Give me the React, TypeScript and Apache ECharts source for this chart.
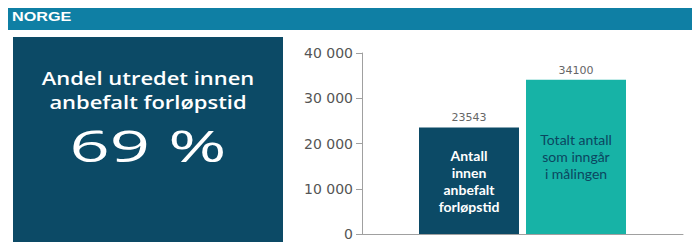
import React, { useEffect, useRef } from "react";
import * as echarts from "echarts";

const headerTitle = "NORGE";
const kpiTitleLines = ["Andel utredet innen", "anbefalt forløpstid"];
const kpiValue = "69 %";
const categories = ["Norge"];
const seriesNames = ["Antall innen anbefalt forløpstid", "Totalt antall som inngår i målingen"];
const innerLabels = ["Antall\ninnen\nanbefalt\nforløpstid", "Totalt antall\nsom inngår\ni målingen"];
const values = [23543, 34100];
const barColors = ["#0c4a66", "#17b3a6"];
const innerLabelColors = ["#ffffff", "#0b4660"];
const yMax = 40000;
const yInterval = 10000;

const fmt = (v: number) => String(v).replace(/\B(?=(\d{3})+(?!\d))/g, " ");

export default function App() {
  const ref = useRef<HTMLDivElement>(null);
  useEffect(() => {
    if (!ref.current) return;
    const chart = echarts.init(ref.current, null, { renderer: "svg" });
    const series: any[] = [];
    values.forEach((v, i) => {
      series.push({
        type: "bar",
        name: seriesNames[i],
        stack: "s" + i,
        data: [v],
        barWidth: 100,
        barGap: "7%",
        itemStyle: { color: barColors[i] },
        label: {
          show: true,
          position: "inside",
          formatter: innerLabels[i],
          color: innerLabelColors[i],
          fontSize: 14,
          lineHeight: 17,
          fontWeight: i === 0 ? "bold" : "normal",
          fontFamily: "Lato",
        },
      });
      series.push({
        type: "bar",
        name: seriesNames[i] + " (verdi)",
        stack: "s" + i,
        data: [0],
        barWidth: 100,
        barGap: "7%",
        itemStyle: { color: barColors[i] },
        label: {
          show: true,
          position: "top",
          distance: 4,
          formatter: String(v),
          color: "#666",
          fontSize: 11,
          fontFamily: "DejaVu Sans",
        },
      });
    });
    chart.setOption({
      animation: false,
      backgroundColor: "#ffffff",
      grid: { left: 362, right: 17, top: 53, bottom: 16 },
      xAxis: {
        type: "category",
        data: categories,
        axisLine: { show: true, lineStyle: { color: "#a0a0a0", width: 1 } },
        axisTick: { show: false },
        axisLabel: { show: false },
        splitLine: { show: false },
      },
      yAxis: {
        type: "value",
        min: 0,
        max: yMax,
        interval: yInterval,
        axisLine: { show: true, lineStyle: { color: "#a0a0a0", width: 1 } },
        axisTick: { show: true, length: 6, lineStyle: { color: "#a0a0a0" } },
        axisLabel: {
          formatter: (v: number) => fmt(v),
          color: "#555",
          fontSize: 14,
          margin: 9,
          fontFamily: "DejaVu Sans",
        },
        splitLine: { show: false },
      },
      series,
      graphic: [
        {
          type: "rect",
          shape: { x: 4, y: 4, width: 692, height: 250 },
          style: { fill: "#ffffff", stroke: "#cfe3ea", lineWidth: 1 },
          z: -10,
        },
        {
          type: "rect",
          shape: { x: 4, y: 4, width: 693, height: 26 },
          style: { fill: "#0f7fa4" },
        },
        {
          type: "text",
          x: 12,
          y: 17,
          scaleX: 1.35,
          style: {
            text: headerTitle,
            fill: "#ffffff",
            font: "bold 12px 'Liberation Sans', Arial, sans-serif",
            textVerticalAlign: "middle",
          },
        },
        {
          type: "rect",
          shape: { x: 13, y: 37, width: 270, height: 220 },
          style: { fill: "#0c4a66" },
        },
        {
          type: "text",
          x: 148,
          y: 78,
          scaleX: 1.22,
          style: {
            text: kpiTitleLines[0],
            fill: "#ffffff",
            font: "600 18px 'Open Sans', sans-serif",
            textAlign: "center",
            textVerticalAlign: "middle",
          },
        },
        {
          type: "text",
          x: 148,
          y: 102,
          scaleX: 1.22,
          style: {
            text: kpiTitleLines[1],
            fill: "#ffffff",
            font: "600 18px 'Open Sans', sans-serif",
            textAlign: "center",
            textVerticalAlign: "middle",
          },
        },
        {
          type: "text",
          x: 148,
          y: 145,
          scaleX: 1.6,
          style: {
            text: kpiValue,
            fill: "#ffffff",
            font: "44px 'Open Sans', sans-serif",
            textAlign: "center",
            textVerticalAlign: "middle",
          },
        },
      ],
    });
    return () => chart.dispose();
  }, []);
  return <div ref={ref} style={{ width: 700, height: 250, margin: -8 }} />;
}
